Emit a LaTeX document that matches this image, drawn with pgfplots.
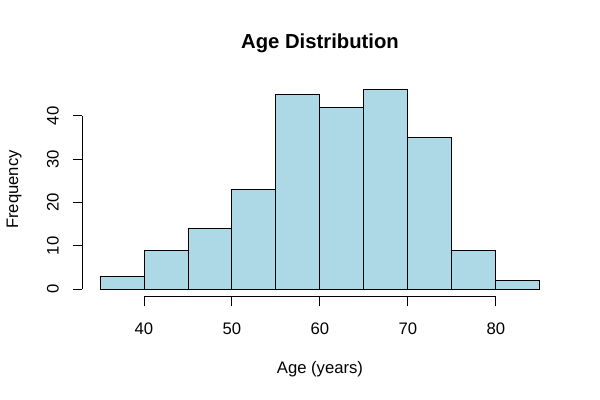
\documentclass[border=0pt]{standalone}
\usepackage{pgfplots}
\pgfplotsset{compat=1.18}
\usepackage{fontspec}
\setmainfont{Liberation Sans}
\definecolor{lightblue}{HTML}{ADD8E6}
\begin{document}
\begin{tikzpicture}[x=0.75pt,y=0.75pt]
\useasboundingbox (0,0) rectangle (600,400);
\begin{axis}[
  at={(61.8pt,77.25pt)}, anchor=south west,
  scale only axis, width=356.4pt, height=161.25pt,
  xmin=33, xmax=87, ymin=-1.84, ymax=47.84,
  axis x line*=bottom, axis y line*=left,
  x axis line style={draw=none}, y axis line style={draw=none},
  clip=false,
  xtick={40,50,60,70,80}, ytick={0,10,20,30,40},
  tick align=outside, major tick length=7.1pt,
  tick style={black, line width=0.75pt},
  ticklabel style={font=\fontsize{12.5}{14}\selectfont},
  /pgf/number format/assume math mode=true,
  xticklabel style={yshift=-8.5pt},
  yticklabel style={rotate=90, anchor=south},
  yticklabel shift=7pt,
]
\addplot[ybar interval, fill=lightblue, draw=black, line width=0.75pt] coordinates {
(35,3) (40,9) (45,14) (50,23) (55,45) (60,42) (65,46) (70,35) (75,9) (80,2) (85,2)};
\draw[line width=0.75pt] (axis cs:40,-1.84) -- (axis cs:80,-1.84);
\draw[line width=0.75pt] (axis cs:33,0) -- (axis cs:33,40);
\end{axis}
\node[font=\bfseries\fontsize{15.2}{17}\selectfont] at (320,357) {Age Distribution};
\node[font=\fontsize{12.5}{14}\selectfont] at (320,31) {Age (years)};
\node[font=\fontsize{12.5}{14}\selectfont, rotate=90] at (14,210.5) {Frequency};
\end{tikzpicture}
\end{document}
